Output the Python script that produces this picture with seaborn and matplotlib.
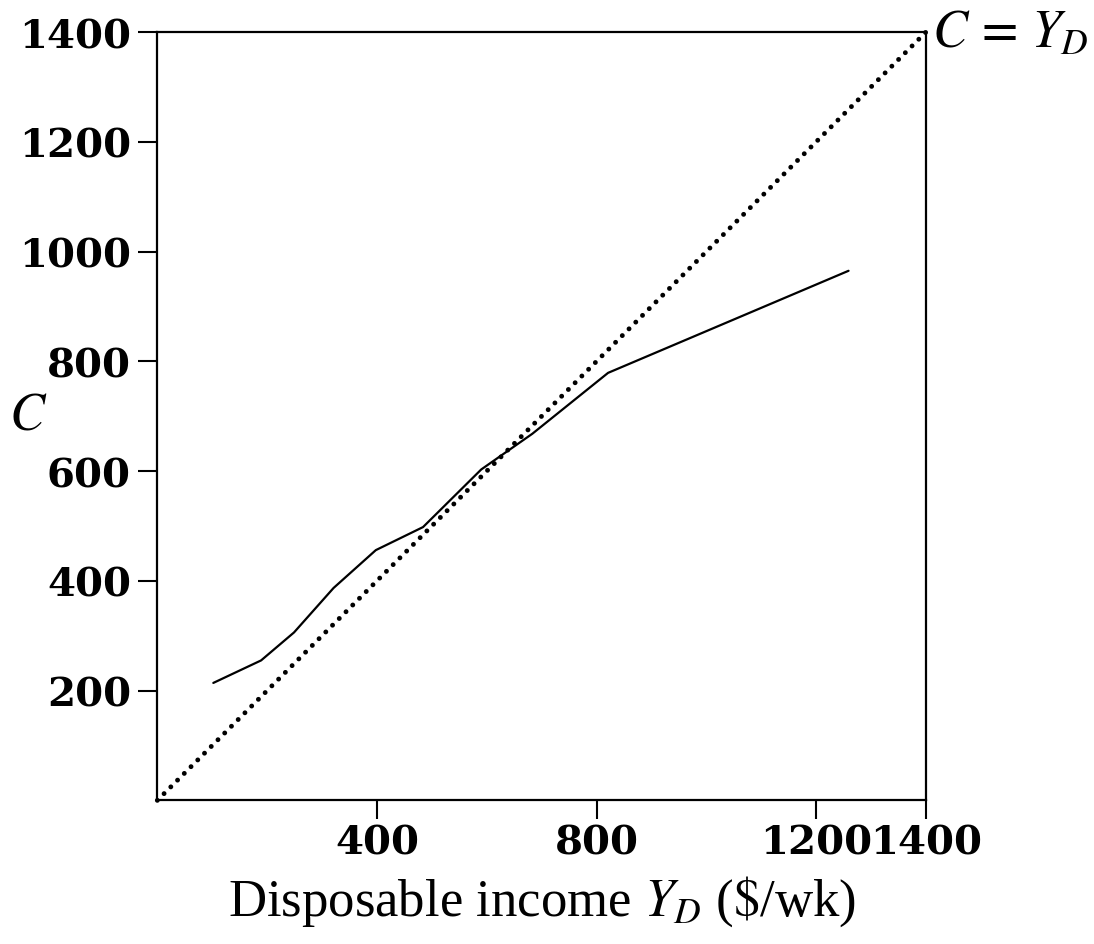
import matplotlib
matplotlib.use("Agg")
import matplotlib.pyplot as plt
import seaborn as sns
import pandas as pd

# consumption schedule
income = [102, 189, 249, 321, 398, 484, 590, 683, 821, 1259]
consumption = [214, 255, 306, 387, 456, 498, 603, 668, 779, 965]

# 45 degree line C = Y_D
diag = [0, 1400]

xticks = [400, 800, 1200, 1400]
yticks = [200, 400, 600, 800, 1000, 1200, 1400]

sns.set_style("ticks")
plt.rcParams["font.family"] = ["DejaVu Serif"]
plt.rcParams["mathtext.fontset"] = "stix"
plt.rcParams["text.color"] = "black"
plt.rcParams["axes.labelcolor"] = "black"

df = pd.DataFrame({"Y": income, "C": consumption})
df45 = pd.DataFrame({"Y": diag, "C": diag})

fig = plt.figure(figsize=(10.94, 9.45), dpi=100)
ax = fig.add_axes([0.1438, 0.152, 0.7026, 0.8130])

sns.lineplot(data=df45, x="Y", y="C", ax=ax, color="black")
dl = ax.lines[-1]
dl.set_linewidth(3.5)
dl.set_linestyle((0, (0.01, 1.95)))
dl.set_dash_capstyle("round")
dl.set_clip_on(False)

sns.lineplot(data=df, x="Y", y="C", ax=ax, color="black", lw=1.6)

ax.set_xlim(0, 1400)
ax.set_ylim(0, 1400)
ax.set_xticks(xticks)
ax.set_yticks(yticks)
ax.set_xticklabels([str(t) for t in xticks], fontsize=29, fontweight="bold")
ax.set_yticklabels([str(t) for t in yticks], fontsize=29, fontweight="bold")
ax.tick_params(length=14, width=1.5, pad=5, colors="black")
ax.tick_params(axis="x", pad=3)

for s in ax.spines.values():
    s.set_linewidth(1.6)
    s.set_color("black")

ax.set_xlabel("Disposable income $Y_D$ ($\\$$/wk)", fontsize=38,
              family="Liberation Serif", labelpad=8)
ax.set_ylabel("$C$", fontsize=38, rotation=0, labelpad=0)
ax.yaxis.set_label_coords(-0.168, 0.47)

ax.annotate("$C\\,=\\,Y_D$", xy=(1400, 1400), xytext=(4, 0),
            textcoords="offset points", fontsize=38, ha="left", va="center",
            annotation_clip=False)

fig.savefig("out.png", dpi=100)
